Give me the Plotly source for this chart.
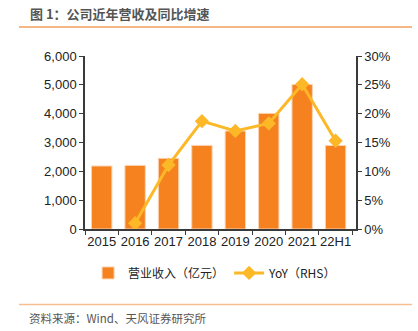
import plotly.graph_objects as go

categories = ["2015", "2016", "2017", "2018", "2019", "2020", "2021", "22H1"]
revenue = [2185, 2205, 2450, 2900, 3400, 4010, 5010, 2895]
yoy_cats = ["2016", "2017", "2018", "2019", "2020", "2021", "22H1"]
yoy = [1.0, 11.1, 18.7, 17.0, 18.3, 25.1, 15.3]

bar_color = "#F5821F"
line_color = "#FCB827"
axis_color = "#3a3a3a"
cjk = "Noto Sans CJK SC"
latin = "Liberation Sans"

fig = go.Figure()
fig.add_trace(go.Bar(
    x=categories, y=revenue, name="营业收入（亿元）",
    marker=dict(color=bar_color, line=dict(color="#FBD3B4", width=1)),
    yaxis="y",
))
fig.add_trace(go.Scatter(
    x=yoy_cats, y=yoy, name="YoY（RHS）", mode="lines+markers",
    line=dict(color=line_color, width=3),
    marker=dict(symbol="diamond", size=11, color=line_color),
    yaxis="y2",
))

fig.update_layout(
    width=418, height=331,
    margin=dict(l=85, r=62, t=56, b=102),
    plot_bgcolor="white", paper_bgcolor="white",
    bargap=0.39,
    showlegend=True,
    legend=dict(
        orientation="h", x=0.48, xanchor="center", y=-0.254, yanchor="middle",
        font=dict(family=cjk, size=12, color="#222"),
        itemwidth=30, tracegroupgap=0,
    ),
    xaxis=dict(
        type="category", showline=True, linecolor=axis_color, linewidth=1.5,
        ticks="outside", ticklen=4, tickcolor=axis_color, tickson="boundaries",
        tickangle=0,
        tickfont=dict(family=latin, size=13, color="#222"),
        showgrid=False, zeroline=False,
    ),
    yaxis=dict(
        range=[0, 6000], dtick=1000, tickformat=",d",
        showline=True, linecolor=axis_color, linewidth=1.5,
        ticks="outside", ticklen=4, tickcolor=axis_color,
        tickfont=dict(family=latin, size=13, color="#222"),
        showgrid=False, zeroline=False,
    ),
    yaxis2=dict(
        range=[0, 30], dtick=5, ticksuffix="%", overlaying="y", side="right",
        showline=True, linecolor=axis_color, linewidth=1.5,
        ticks="outside", ticklen=4, tickcolor=axis_color,
        tickfont=dict(family=latin, size=13, color="#222"),
        showgrid=False, zeroline=False,
    ),
    shapes=[
        dict(type="line", xref="paper", yref="paper", x0=-0.2435, x1=1.2066,
             y0=1.1676, y1=1.1676, line=dict(color="#F0A060", width=1.5)),
        dict(type="line", xref="paper", yref="paper", x0=-0.2435, x1=1.2066,
             y0=-0.4364, y1=-0.4364, line=dict(color="#F6BE90", width=1.5)),
    ],
    annotations=[
        dict(text="<b>图 1：公司近年营收及同比增速</b>", xref="paper", yref="paper",
             x=-0.21, y=1.2428, xanchor="left", yanchor="middle", showarrow=False,
             font=dict(family=cjk, size=13, color="#555")),
        dict(text="资料来源：Wind、天风证券研究所", xref="paper", yref="paper",
             x=-0.214, y=-0.5145, xanchor="left", yanchor="middle", showarrow=False,
             font=dict(family=cjk, size=11.5, color="#555")),
    ],
)

fig.write_html("out.html")
